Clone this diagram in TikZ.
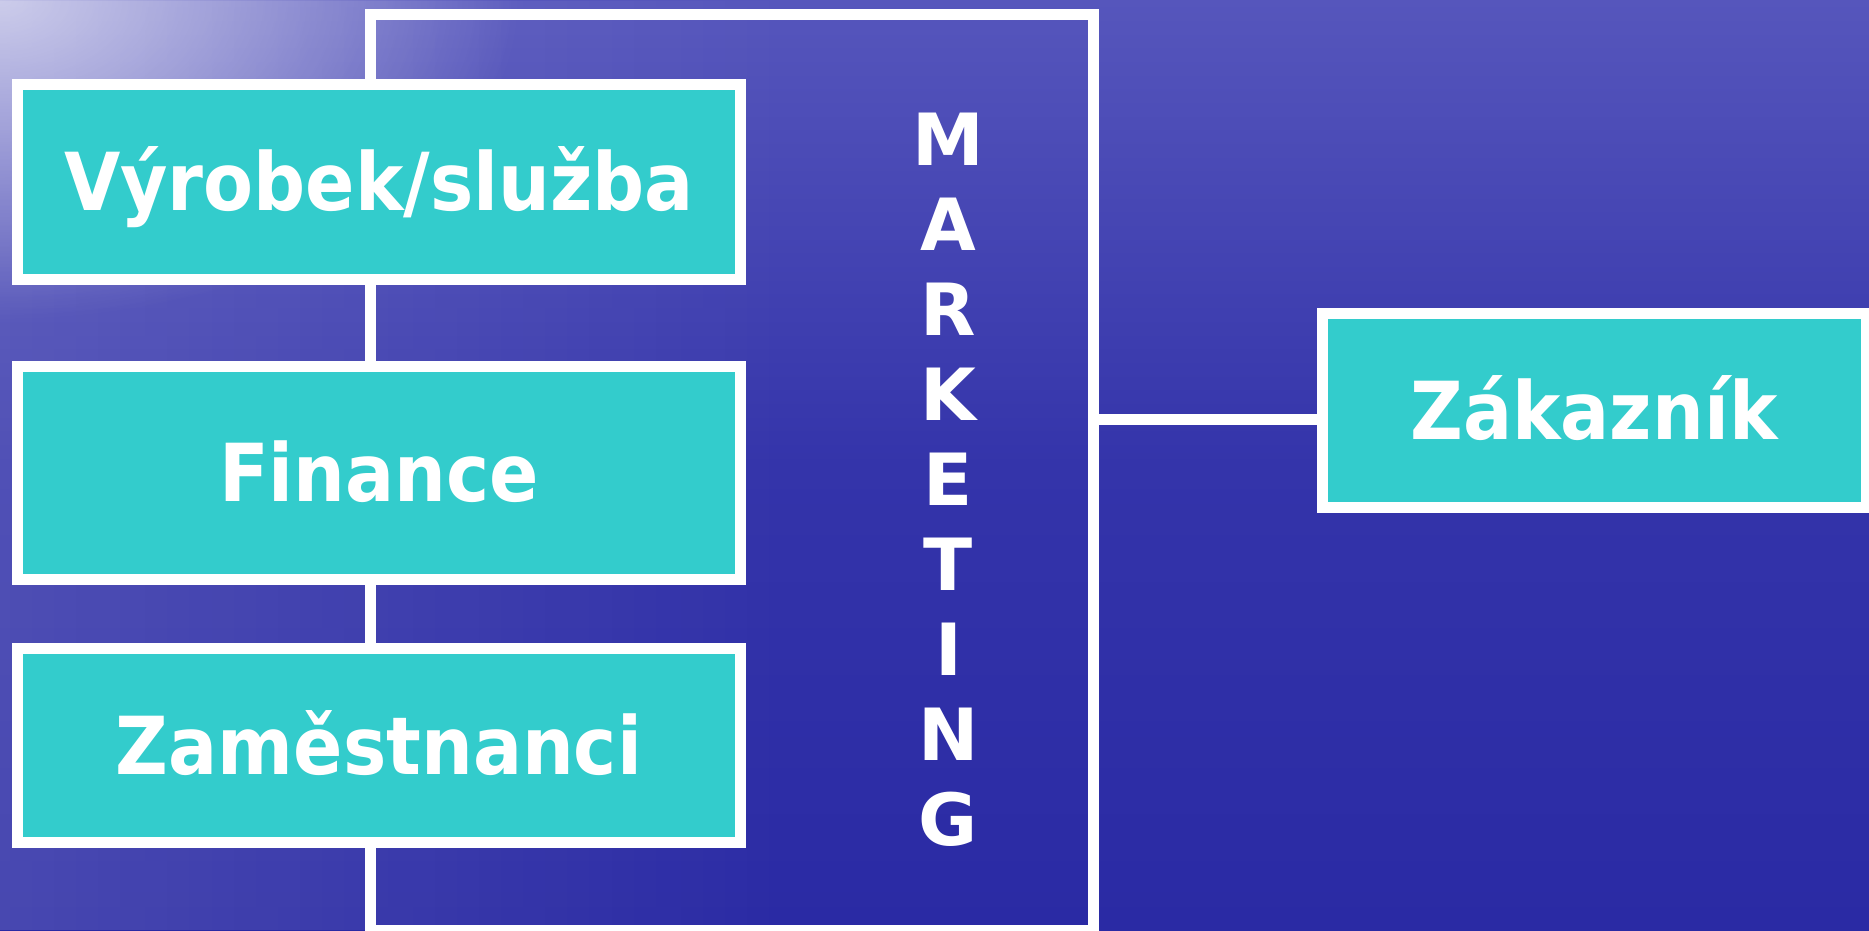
\documentclass[tikz,border=0pt]{standalone}
\usepackage{fontspec}
\setmainfont{DejaVu Sans}
\newfontfamily\boxfont[FakeStretch=0.91]{DejaVu Sans}
\newfontfamily\mkfont{DejaVu Sans}
\usetikzlibrary{fadings}
\definecolor{tealbox}{HTML}{33CCCC}
\definecolor{bgtop}{HTML}{5656BC}
\definecolor{bgmid}{HTML}{3434AA}
\definecolor{bgbot}{HTML}{2A2AA4}
\tikzfading[name=glowfade, inner color=transparent!0, outer color=transparent!100]
\tikzfading[name=leftfade, left color=transparent!0, right color=transparent!100]
\begin{document}
\begin{tikzpicture}[x=1pt,y=-1pt,
  box/.style={draw=white, fill=tealbox, line width=11pt, inner sep=0pt,
    text height=58pt, text depth=0pt,
    text=white, font=\boxfont\bfseries\fontsize{80}{96}\selectfont},
  frame/.style={draw=white, line width=11pt, inner sep=0pt},
  conn/.style={draw=white, line width=11pt},
  letter/.style={text=white, inner sep=0pt, font=\mkfont\bfseries\fontsize{72}{80}\selectfont}]
\useasboundingbox (0,0) rectangle (1869,930);
\clip (0,0) rectangle (1869,930);
% background
\shade[top color=bgtop, bottom color=bgbot, middle color=bgmid] (0,0) rectangle (1869,930);
\fill[white, fill opacity=0.14, path fading=leftfade] (0,0) rectangle (800,930);
\fill[white, fill opacity=0.65, path fading=glowfade] (-520,-320) rectangle (520,320);
% marketing frame
\node[frame, minimum width=723pt, minimum height=916pt] (mk) at (731.5,472) {};
\foreach \l [count=\i] in {M,A,R,K,E,T,I,N,G}
  \node[letter] (m\i) at (948.5, {139+85*(\i-1)}) {\l};
% boxes
\node[box, minimum width=723.5pt, minimum height=195pt] (vyr) at (379,181.5) {Výrobek/služba};
\node[box, minimum width=723.5pt, minimum height=213pt] (fin) at (379,472.5) {Finance};
\node[box, minimum width=723.5pt, minimum height=194pt] (zam) at (379,745) {Zaměstnanci};
\node[box, minimum width=544pt, minimum height=194pt] (zak) at (1594,410) {Zákazník};
% connector
\coordinate (c1) at (1093,419);
\draw[conn] (c1) -- (c1 -| zak.west);
\end{tikzpicture}
\end{document}
